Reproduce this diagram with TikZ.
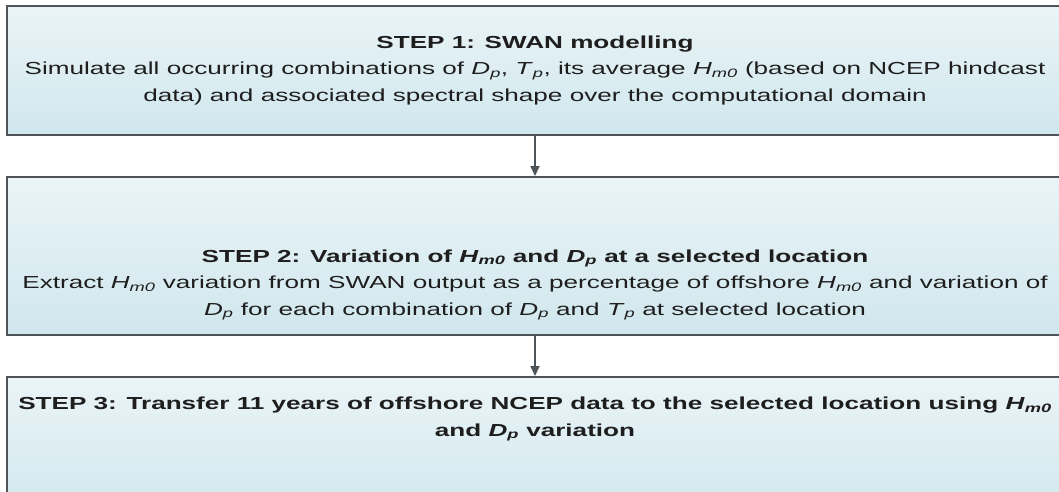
\documentclass[tikz,border=0pt]{standalone}
\usepackage{fontspec}
\setmainfont{Liberation Sans}[FakeStretch=1.5]
\usepackage{tikz}
\usetikzlibrary{arrows.meta,positioning}

\definecolor{boxedge}{HTML}{4E5457}
\definecolor{boxtop}{HTML}{EAF4F7}
\definecolor{boxbot}{HTML}{D0E7ED}
\definecolor{txtgray}{HTML}{1E1E1E}

% italic symbol with italic subscript
\newcommand{\wsym}[2]{\textit{#1}\textsubscript{\textit{#2}}}

\begin{document}
\begin{tikzpicture}[x=1pt, y=-1pt,
    every node/.style={font=\fontsize{17.4}{26.5}\selectfont, text=txtgray},
    stepbox/.style={draw=boxedge, line width=2pt, top color=boxtop, bottom color=boxbot,
      minimum width=1056pt, inner sep=0pt},
    steptxt/.style={align=center, inner sep=0pt},
    arr/.style={draw=boxedge, line width=1.6pt, -{Triangle[length=10pt,width=9pt]}}]
  \useasboundingbox (0,0) rectangle (1059,491);
  % boxes
  \node[stepbox, minimum height=129pt] (step1) at (535,70.5) {};
  \node[stepbox, minimum height=158pt] (step2) at (535,256) {};
  \node[stepbox, minimum height=143pt] (step3) at (535,448.5) {};
  % texts
  \node[steptxt] (t1) at (535,70) {\textbf{STEP 1: SWAN modelling}\\
    Simulate all occurring combinations of \wsym{D}{p}, \wsym{T}{p}, its average \wsym{H}{m0} (based on NCEP hindcast\\
    data) and associated spectral shape over the computational domain};
  \node[steptxt] (t2) at (535,285) {\textbf{STEP 2: Variation of \wsym{H}{m0} and \wsym{D}{p} at a selected location}\\
    Extract \wsym{H}{m0} variation from SWAN output as a percentage of offshore \wsym{H}{m0} and variation of\\
    \wsym{D}{p} for each combination of \wsym{D}{p} and \wsym{T}{p} at selected location};
  \node[steptxt] (t3) at (535,419) {\textbf{STEP 3: Transfer 11 years of offshore NCEP data to the selected location using \wsym{H}{m0}}\\
    \textbf{and \wsym{D}{p} variation}};
  % arrows
  \draw[arr] (step1) -- (step2);
  \draw[arr] (step2) -- (step3);
\end{tikzpicture}
\end{document}
